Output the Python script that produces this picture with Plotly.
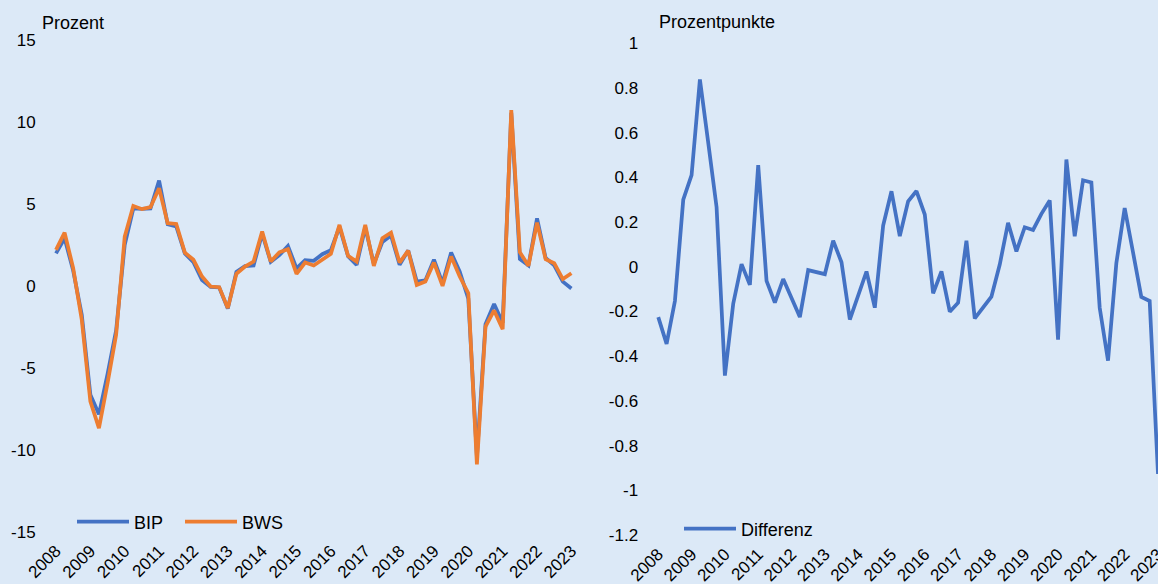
import plotly.graph_objects as go

# Quartale 2008Q1 .. 2023Q1
quarters = [f"{y}Q{q}" for y in range(2008, 2024) for q in range(1, 5)][:61]
years = [str(y) for y in range(2008, 2024)]
year_ticks = [f"{y}Q1" for y in years]

# Wachstumsraten (Prozent)
bip = [1.98, 2.90, 0.93, -1.77, -6.64, -7.84, -5.38, -2.72, 2.51, 4.72,
       4.69, 4.72, 6.42, 3.76, 3.62, 1.98, 1.45, 0.35, -0.06, -0.10,
       -1.39, 0.85, 1.20, 1.24, 3.18, 1.46, 1.87, 2.43, 1.07, 1.56,
       1.53, 1.93, 2.18, 3.60, 1.81, 1.28, 3.56, 1.34, 2.68, 3.07,
       1.29, 2.16, 0.26, 0.33, 1.60, 0.17, 2.03, 0.87, -0.78, -10.42,
       -2.34, -1.11, -2.26, 10.55, 1.63, 1.24, 4.12, 1.70, 1.25, 0.26, -0.16]
bws = [2.20, 3.25, 1.08, -2.07, -7.05, -8.68, -5.93, -2.99, 3.00, 4.88,
       4.68, 4.80, 5.96, 3.82, 3.78, 2.03, 1.59, 0.57, -0.04, -0.08,
       -1.36, 0.73, 1.18, 1.48, 3.31, 1.48, 2.05, 2.24, 0.73, 1.42,
       1.24, 1.59, 1.95, 3.72, 1.83, 1.48, 3.72, 1.22, 2.91, 3.25,
       1.42, 2.15, 0.06, 0.26, 1.42, 0.00, 1.79, 0.57, -0.45, -10.90,
       -2.48, -1.50, -2.64, 10.73, 2.05, 1.22, 3.86, 1.63, 1.38, 0.41, 0.77]
# Differenz BIP - BWS (Prozentpunkte)
differenz = [-0.225, -0.345, -0.153, 0.30, 0.41, 0.838, 0.555, 0.267, -0.487, -0.165,
             0.012, -0.081, 0.455, -0.063, -0.16, -0.055, -0.14, -0.225, -0.015, -0.025,
             -0.033, 0.117, 0.02, -0.236, -0.128, -0.021, -0.183, 0.185, 0.338, 0.137,
             0.293, 0.339, 0.234, -0.119, -0.021, -0.201, -0.161, 0.117, -0.231, -0.183,
             -0.134, 0.01, 0.197, 0.069, 0.177, 0.165, 0.237, 0.297, -0.326, 0.48,
             0.137, 0.387, 0.377, -0.183, -0.42, 0.017, 0.263, 0.065, -0.135, -0.153, -0.927]

# Achsenbeschriftungen
left_ticks = [15, 10, 5, 0, -5, -10, -15]
left_labels = ["15", "10", "5", "0", "-5", "-10", "-15"]
right_ticks = [1, 0.8, 0.6, 0.4, 0.2, 0, -0.2, -0.4, -0.6, -0.8, -1, -1.2]
right_labels = ["1", "0.8", "0.6", "0.4", "0.2", "0", "-0.2", "-0.4", "-0.6", "-0.8",
                "-1", "-1.2"]

BLUE = "#4472C4"
ORANGE = "#ED7D31"
BG = "#DCE9F7"
FONT = "Liberation Sans, Arial, sans-serif"

W, H = 1158, 584
MT, MB = 40, 49
PH = H - MT - MB

fig = go.Figure()
fig.add_trace(go.Scatter(x=quarters, y=bip, name="BIP", mode="lines",
                         line=dict(color=BLUE, width=3.75), xaxis="x", yaxis="y",
                         legend="legend"))
fig.add_trace(go.Scatter(x=quarters, y=bws, name="BWS", mode="lines",
                         line=dict(color=ORANGE, width=3.75), xaxis="x", yaxis="y",
                         legend="legend"))
fig.add_trace(go.Scatter(x=quarters, y=differenz, name="Differenz", mode="lines",
                         line=dict(color=BLUE, width=3.75), xaxis="x2", yaxis="y2",
                         legend="legend2"))

xcommon = dict(type="category", tickmode="array", tickvals=year_ticks, ticktext=years,
               tickangle=-45, showgrid=False, zeroline=False, showline=False, ticks="",
               automargin=False, ticklabelstandoff=5,
               tickfont=dict(size=17, color="black"))
ycommon = dict(showgrid=False, zeroline=False, showline=False, ticks="",
               automargin=False, tickmode="array", ticklabelstandoff=15,
               tickfont=dict(size=17, color="black"))

fig.update_layout(
    width=W, height=H,
    margin=dict(l=0, r=0, t=MT, b=MB, autoexpand=False),
    paper_bgcolor=BG, plot_bgcolor=BG,
    font=dict(family=FONT, color="black"),
    xaxis=dict(xcommon, domain=[51.7 / W, 575.7 / W], range=[-0.5, 60.5], anchor="y"),
    yaxis=dict(ycommon, domain=[(535 - 531.7) / PH, 1.0], range=[-15, 15],
               tickvals=left_ticks, ticktext=left_labels, anchor="x"),
    xaxis2=dict(xcommon, domain=[654.1 / W, 1.0], range=[-0.5, 60.0], anchor="y2"),
    yaxis2=dict(ycommon, domain=[0.0, (535 - 43.3) / PH], range=[-1.2, 1.0],
                tickvals=right_ticks, ticktext=right_labels, anchor="x2"),
    legend=dict(orientation="h", x=72 / W, y=(535 - 522) / PH, xanchor="left",
                yanchor="middle", bgcolor="rgba(0,0,0,0)", font=dict(size=18),
                itemwidth=52, entrywidth=41, entrywidthmode="pixels",
                traceorder="normal"),
    legend2=dict(orientation="h", x=679 / W, y=(535 - 529) / PH, xanchor="left",
                 yanchor="middle", bgcolor="rgba(0,0,0,0)", font=dict(size=18),
                 itemwidth=52),
    showlegend=True,
    annotations=[
        dict(text="Prozent", x=40 / W, y=(535 - 23) / PH, xref="paper", yref="paper",
             xanchor="left", yanchor="middle", showarrow=False, font=dict(size=18)),
        dict(text="Prozentpunkte", x=657 / W, y=(535 - 22) / PH, xref="paper",
             yref="paper", xanchor="left", yanchor="middle", showarrow=False,
             font=dict(size=18)),
    ],
)

# Seitenrand des Browsers entfernen, damit die Grafik das Fenster genau füllt
fig.write_html("out.html", config={"displayModeBar": False},
               post_script="document.body.style.margin='0';"
                           "document.body.style.overflow='hidden';")
